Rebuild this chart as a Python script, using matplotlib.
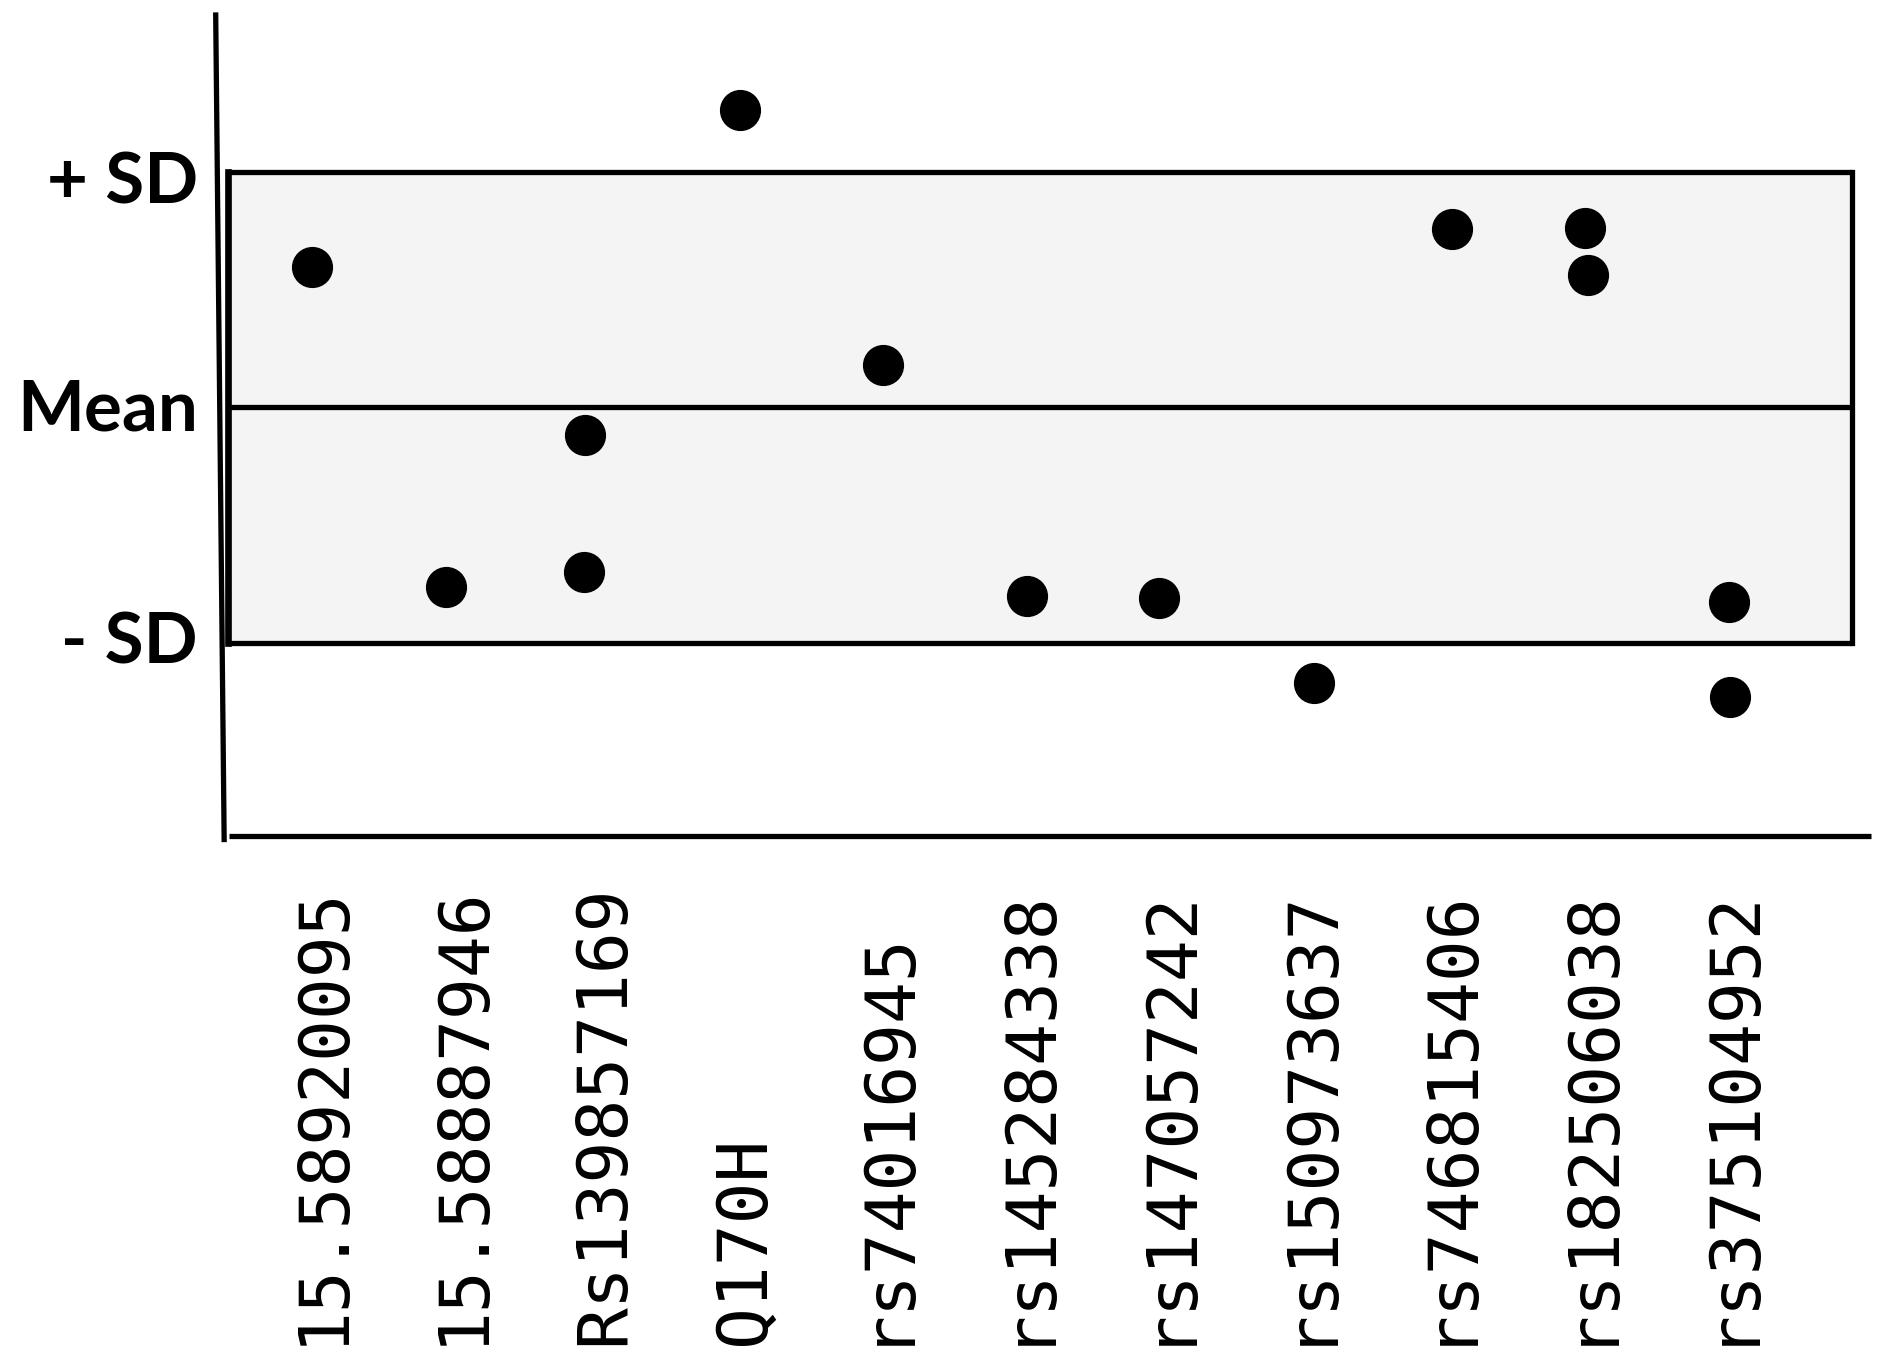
"""Dot chart of variant scores relative to the mean +/- 1 SD band."""

import matplotlib
matplotlib.use("Agg")
import matplotlib.pyplot as plt
import matplotlib.transforms as mtransforms

# categories (x tick labels)
VARIANTS = ["15.58920095", "15.58887946", "Rs139857169", "Q170H", "rs74016945",
            "rs145284338", "rs147057242", "rs150973637", "rs746815406",
            "rs182506038", "rs375104952"]

# dots: category position and value in SD units (0 = mean)
DOT_X = [-0.07, 0.88, 1.87, 1.86, 2.97, 3.99, 5.01, 5.95, 7.05, 8.03, 8.98, 9.00, 10.0, 10.01]
DOT_Y = [0.595, -0.764, -0.118, -0.697, 1.262, 0.179, -0.80, -0.81, -1.169,
         0.759, 0.764, 0.564, -0.826, -1.231]

# reference levels
LEVELS = [1.0, 0.0, -1.0]
LEVEL_LABELS = ["+ SD", "Mean", "- SD"]

W, H = 1895, 1364
fig = plt.figure(figsize=(W / 100, H / 100), dpi=100)
fig.patch.set_facecolor("white")

# axes placed in pixel terms of the reference
left, right, top, bottom = 215, 1871, 15, 836
ax = fig.add_axes([left / W, 1 - bottom / H, (right - left) / W, (bottom - top) / H])
ax.set_xlim(-0.76, 11.01)
ax.set_ylim(-1.82, 1.667)
ax.axis("off")

lw = 3.8
box_l, box_r = -0.67, 10.876
# shaded band
ax.fill_between([box_l, box_r], LEVELS[-1], LEVELS[0], color="#f4f4f4", zorder=0)
for lv in LEVELS:
    ax.plot([box_l, box_r], [lv, lv], color="black", lw=lw, solid_capstyle="butt", zorder=1)
ax.plot([box_l, box_l], [LEVELS[-1], LEVELS[0]], color="black", lw=lw + 1, zorder=1)
ax.plot([box_r, box_r], [LEVELS[-1], LEVELS[0]], color="black", lw=lw, zorder=1)

# hand-drawn style axis lines
ax.plot([-0.755, -0.695], [1.667, -1.835], color="black", lw=lw, clip_on=False)
ax.plot([-0.66, 11.01], [-1.82, -1.82], color="black", lw=lw, clip_on=False,
        solid_capstyle="butt")

ax.scatter(DOT_X, DOT_Y, s=820, color="black", zorder=3, clip_on=False)

# y labels (slightly offset from their lines, as in the source)
label_y = [0.955, -0.01, -1.0]
for ly, lab in zip(label_y, LEVEL_LABELS):
    ax.text(-0.88, ly, lab, ha="right", va="center", fontsize=51,
            fontweight="bold", family="Lato", clip_on=False)

# rotated category labels anchored at the bottom of the figure
trans = mtransforms.blended_transform_factory(ax.transData, fig.transFigure)
for i, name in enumerate(VARIANTS):
    ax.text(i, 0.014, name, rotation=90, ha="center", va="bottom",
            fontsize=50, family="DejaVu Sans Mono", transform=trans, clip_on=False)

fig.savefig("out.png", dpi=100)
